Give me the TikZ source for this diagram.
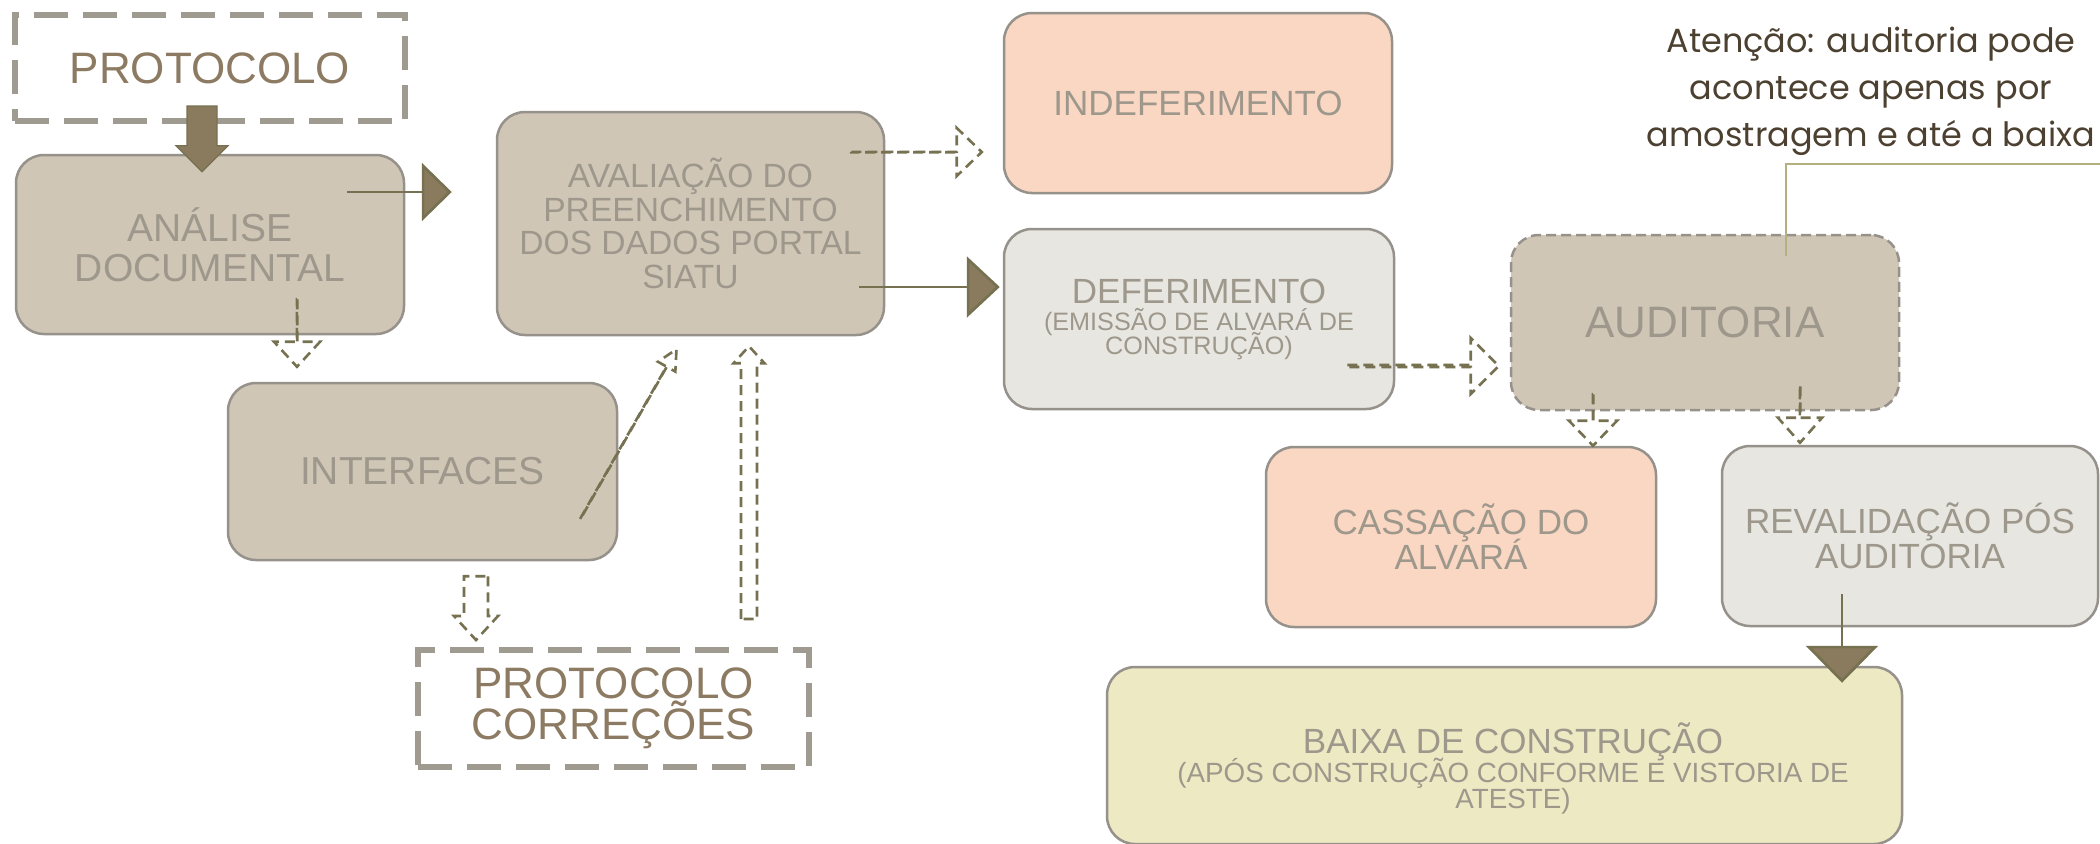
\documentclass[tikz,border=0pt]{standalone}
\usepackage{fontspec}
\setmainfont{Liberation Sans}
\newfontfamily\notefont{Poppins}
\usetikzlibrary{calc,arrows.meta}
\definecolor{boxfill}{HTML}{CFC6B6}
\definecolor{boxline}{HTML}{96918A}
\definecolor{boxtext}{HTML}{9E988C}
\definecolor{protoline}{HTML}{A09B91}
\definecolor{prototext}{HTML}{8C7B62}
\definecolor{redfill}{HTML}{FAD7C2}
\definecolor{greyfill}{HTML}{E8E6E1}
\definecolor{yellowfill}{HTML}{EDE9C3}
\definecolor{arrline}{HTML}{767150}
\definecolor{arrfill}{HTML}{8B7B5E}
\definecolor{notetext}{HTML}{4C4030}
\definecolor{callline}{HTML}{B5B082}
\lineskiplimit=-100pt
\lineskip=0pt
\newcommand\fontBig{\fontsize{22pt}{20.5pt}\selectfont}
\newcommand\fontMid{\fontsize{19.5pt}{20pt}\selectfont}
\newcommand\fontAval{\fontsize{16.8pt}{16.8pt}\selectfont}
\newcommand\fontStd{\fontsize{17.5pt}{17.5pt}\selectfont}
\newcommand\fontSubA{\fontsize{12.6pt}{12pt}\selectfont}
\newcommand\fontSubB{\fontsize{13.9pt}{13pt}\selectfont}
\newcommand\blockarr[6]{%
  \path #2 coordinate (ba-s) #3 coordinate (ba-t);
  \path ($(ba-t)!#6!(ba-s)$) coordinate (ba-h);
  \draw[#1] ($(ba-s)!#4!90:(ba-t)$) -- ($(ba-h)!#4!90:(ba-t)$) -- ($(ba-h)!#5!90:(ba-t)$) -- (ba-t) -- ($(ba-h)!#5!-90:(ba-t)$) -- ($(ba-h)!#4!-90:(ba-t)$) -- ($(ba-s)!#4!-90:(ba-t)$) -- cycle;}
\begin{document}
\begin{tikzpicture}[x=0.5pt,y=-0.5pt,
  sz/.style 2 args={minimum width=#1*0.5pt, minimum height=#2*0.5pt},
  box/.style={rounded corners=14pt, draw=boxline, line width=1.25pt, inner sep=0pt, align=center, text=boxtext},
  protobox/.style={draw=protoline, line width=3pt, dash pattern=on 17pt off 7.5pt, inner sep=0pt, align=center, text=prototext, font=\fontBig},
  auditbox/.style={box, dash pattern=on 5pt off 2.5pt},
  darr/.style={draw=arrline, line width=1.3pt, dash pattern=on 5pt off 3pt, line join=miter},
  solidblock/.style={draw=arrline, line width=0.6pt, fill=arrfill},
  sarr/.style={draw=arrline, line width=1.35pt},
  callout/.style={draw=callline, line width=0.75pt},
  notestyle/.style={font=\notefont\fontsize{16.75pt}{23.5pt}\selectfont, text=notetext, align=center, inner sep=0pt}]
\useasboundingbox[fill=white] (0,0) rectangle (2100,843);
% nodes
\node[protobox, sz={390}{106}] (proto) at (210,68) {PROTOCOLO};
\node[box, fill=boxfill, sz={388}{179}, font=\fontMid] (analise) at (210,244.5) {ANÁLISE\\DOCUMENTAL};
\node[box, fill=boxfill, sz={387}{223}, font=\fontAval] (aval) at (690.5,223.5) {AVALIAÇÃO DO\\PREENCHIMENTO\\DOS DADOS PORTAL\\SIATU};
\node[box, fill=boxfill, sz={389}{177}, font=\fontMid] (interf) at (422.5,471.5) {INTERFACES};
\node[protobox, sz={391}{117}] (correc) at (613.5,708.5) {PROTOCOLO\\CORREÇÕES};
\node[box, fill=redfill, sz={388}{180}, font=\fontStd] (indef) at (1198,103) {INDEFERIMENTO};
\node[box, fill=greyfill, sz={390}{180}, font=\fontsize{17.5pt}{12pt}\selectfont] (defer) at (1199,319) {DEFERIMENTO\\[1.5pt]{\fontSubA (EMISSÃO DE ALVARÁ DE}\\{\fontSubA CONSTRUÇÃO)}};
\node[auditbox, fill=boxfill, sz={388}{175}, font=\fontBig] (audit) at (1705,322.5) {AUDITORIA};
\node[box, fill=redfill, sz={390}{180}, font=\fontStd] (cass) at (1461,537) {CASSAÇÃO DO\\ALVARÁ};
\node[box, fill=greyfill, sz={376}{180}, font=\fontStd] (reval) at (1910,536) {REVALIDAÇÃO PÓS\\AUDITORIA};
\node[box, fill=yellowfill, sz={795}{177}] (baixa) at (1504.5,755.5) {};
\node[align=center, text=boxtext, inner sep=0pt, font=\fontsize{17.5pt}{13pt}\selectfont] (baixat) at (1513,768) {BAIXA DE CONSTRUÇÃO\\[1.5pt]{\fontSubB (APÓS CONSTRUÇÃO CONFORME E VISTORIA DE}\\{\fontSubB ATESTE)}};
\node[notestyle] (note) at (1871,91) {Atenção: auditoria pode\\acontece apenas por\\amostragem e até a baixa};
\coordinate (callend) at (2100,164);
% connectors
\blockarr{solidblock}{($(proto.south)+(-8,-18)$)}{($(analise.north)+(-8,18)$)}{7.5pt}{13pt}{13pt}
\draw[sarr, -{Triangle[length=15pt,width=29pt,fill=arrfill]}] ($(analise.east)+(-58,-52.5)$) -- ($(aval.west)+(-44,-31.5)$);
\draw[sarr, -{Triangle[length=16.5pt,width=30.5pt,fill=arrfill]}] ($(aval.east)+(-26,63.5)$) -- ($(defer.west)+(-3,-32)$);
\draw[sarr, -{Triangle[length=18.5pt,width=36pt,fill=arrfill]}] ($(reval.south)+(-68,-33)$) -- ($(baixa.north)+(337.5,17)$);
\blockarr{darr}{($(analise.south)+(87,-36)$)}{($(interf.north)+(-125.5,-15)$)}{0.1pt}{11.5pt}{12.5pt}
\blockarr{darr}{($(interf.east)+(-38,47.5)$)}{($(aval.south)+(-14,13)$)}{0.1pt}{5pt}{10pt}
\blockarr{darr}{($(interf.south)+(53.5,15)$)}{($(correc.north)+(-137.5,-7)$)}{6pt}{11pt}{12pt}
\blockarr{darr}{($(correc.north)+(135.5,-28)$)}{($(aval.south)+(58.5,10)$)}{4pt}{7.75pt}{8.5pt}
\blockarr{darr}{($(aval.east)+(-34,-71.5)$)}{($(indef.west)+(-21,49)$)}{0.1pt}{12pt}{12.5pt}
\blockarr{darr}{($(defer.east)+(-48,47)$)}{($(audit.west)+(-11,43.5)$)}{0.5pt}{14pt}{14pt}
\blockarr{darr}{($(audit.south)+(-112,-17)$)}{($(cass.north)+(132,0)$)}{0.1pt}{12pt}{12.5pt}
\blockarr{darr}{($(audit.south)+(95,-25)$)}{($(reval.north)+(-110,-2)$)}{0.1pt}{11pt}{12.5pt}
\draw[callout] ($(audit.north)+(81,22)$) |- (callend);
\end{tikzpicture}
\end{document}
